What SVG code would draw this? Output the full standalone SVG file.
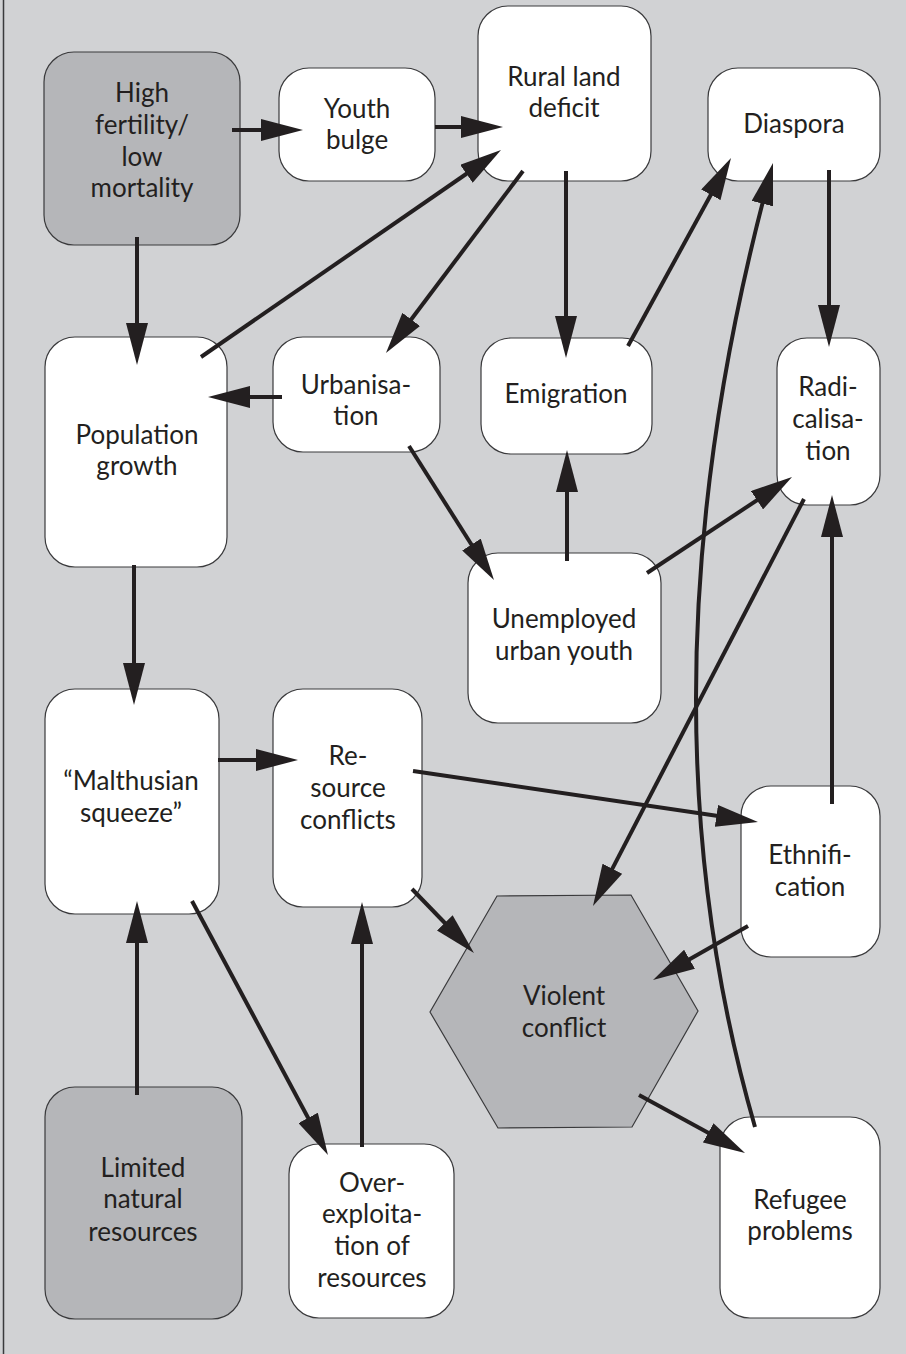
<svg xmlns="http://www.w3.org/2000/svg" width="906" height="1354" viewBox="0 0 906 1354">
<defs>
<style>
.bg{fill:#d1d2d4}
.box{fill:#ffffff;stroke:#3a3a3c;stroke-width:1.2}
.dark{fill:#b5b6b9;stroke:#3a3a3c;stroke-width:1.2}
.lbl{font-family:Lato,"Liberation Sans",sans-serif;font-size:26px;fill:#231f20;text-anchor:middle}
.arr{fill:none;stroke:#231f20;stroke-width:4;marker-end:url(#ah)}
</style>
<marker id="ah" markerUnits="userSpaceOnUse" markerWidth="42" markerHeight="22" refX="12" refY="11" orient="auto" viewBox="0 0 42 22">
<path d="M0,0 L42,11 L0,22 z" fill="#231f20"/>
</marker>
</defs>
<rect class="bg" x="0" y="0" width="906" height="1354"/>
<line x1="3.5" y1="0" x2="3.5" y2="1354" stroke="#3a3a3c" stroke-width="1.5"/>

<g id="high-fertility"><rect class="dark" x="44" y="52" width="196" height="193" rx="30"/>
<text class="lbl" x="142" y="102">High</text><text class="lbl" x="142" y="134">fertility/</text><text class="lbl" x="142" y="166">low</text><text class="lbl" x="142" y="197">mortality</text></g>
<g id="youth-bulge"><rect class="box" x="279" y="68" width="156" height="113" rx="30"/>
<text class="lbl" x="357" y="118">Youth</text><text class="lbl" x="357" y="149">bulge</text></g>
<g id="rural-land"><rect class="box" x="478" y="6" width="173" height="175" rx="30"/>
<text class="lbl" x="564" y="86">Rural land</text><text class="lbl" x="564" y="117">deficit</text></g>
<g id="diaspora"><rect class="box" x="708" y="68" width="172" height="113" rx="30"/>
<text class="lbl" x="794" y="133">Diaspora</text></g>
<g id="population-growth"><rect class="box" x="45" y="337" width="182" height="230" rx="30"/>
<text class="lbl" x="137" y="444">Population</text><text class="lbl" x="137" y="475">growth</text></g>
<g id="urbanisation"><rect class="box" x="273" y="337" width="167" height="115" rx="30"/>
<text class="lbl" x="356" y="394">Urbanisa-</text><text class="lbl" x="356" y="425">tion</text></g>
<g id="emigration"><rect class="box" x="481" y="338" width="171" height="116" rx="30"/>
<text class="lbl" x="566" y="403">Emigration</text></g>
<g id="radicalisation"><rect class="box" x="777" y="338" width="103" height="167" rx="30"/>
<text class="lbl" x="828" y="396">Radi-</text><text class="lbl" x="828" y="428">calisa-</text><text class="lbl" x="828" y="460">tion</text></g>
<g id="unemployed"><rect class="box" x="468" y="553" width="193" height="170" rx="30"/>
<text class="lbl" x="564" y="628">Unemployed</text><text class="lbl" x="564" y="660">urban youth</text></g>
<g id="malthusian"><rect class="box" x="45" y="689" width="174" height="225" rx="30"/>
<text class="lbl" x="131" y="790">“Malthusian</text><text class="lbl" x="131" y="822">squeeze”</text></g>
<g id="resource-conflicts"><rect class="box" x="273" y="689" width="149" height="218" rx="30"/>
<text class="lbl" x="348" y="765">Re-</text><text class="lbl" x="348" y="797">source</text><text class="lbl" x="348" y="829">conflicts</text></g>
<g id="ethnification"><rect class="box" x="741" y="786" width="139" height="171" rx="30"/>
<text class="lbl" x="810" y="864">Ethnifi-</text><text class="lbl" x="810" y="896">cation</text></g>
<g id="violent-conflict"><polygon class="dark" points="497,896 631,895 698,1011 632,1127 498,1128 430,1012"/>
<text class="lbl" x="564" y="1005">Violent</text><text class="lbl" x="564" y="1037">conflict</text></g>
<g id="limited-resources"><rect class="dark" x="45" y="1087" width="197" height="232" rx="30"/>
<text class="lbl" x="143" y="1177">Limited</text><text class="lbl" x="143" y="1208">natural</text><text class="lbl" x="143" y="1241">resources</text></g>
<g id="over-exploitation"><rect class="box" x="289" y="1144" width="165" height="174" rx="30"/>
<text class="lbl" x="372" y="1192">Over-</text><text class="lbl" x="372" y="1223">exploita-</text><text class="lbl" x="372" y="1255">tion of</text><text class="lbl" x="372" y="1287">resources</text></g>
<g id="refugee"><rect class="box" x="720" y="1117" width="160" height="201" rx="30"/>
<text class="lbl" x="800" y="1209">Refugee</text><text class="lbl" x="800" y="1240">problems</text></g>

<g id="connectors">
<path class="arr" d="M232,130 L273,130"/>
<path class="arr" d="M435,127 L473,127"/>
<path class="arr" d="M201,357 L476.3,167"/>
<path class="arr" d="M523,171 L404,329"/>
<path class="arr" d="M566,171 L566,328"/>
<path class="arr" d="M628,346 L716.6,184.3"/>
<path class="arr" d="M755,1127 Q632,700 765.4,192"/>
<path class="arr" d="M829,170 L829,317"/>
<path class="arr" d="M137,237 L137,335"/>
<path class="arr" d="M282,397 L238,397"/>
<path class="arr" d="M409,446 L477.9,554.7"/>
<path class="arr" d="M567,561 L567,480"/>
<path class="arr" d="M647,573 L767,493.6"/>
<path class="arr" d="M804,499 L606.8,879.4"/>
<path class="arr" d="M832,804 L832,525"/>
<path class="arr" d="M134,565 L134,675"/>
<path class="arr" d="M218,760 L268,760"/>
<path class="arr" d="M413,771 L728.3,817.6"/>
<path class="arr" d="M412,889 L453.1,931.5"/>
<path class="arr" d="M748,926 L679.1,965.2"/>
<path class="arr" d="M639,1095 L718.7,1138.6"/>
<path class="arr" d="M137,1095 L137,931"/>
<path class="arr" d="M192,901 L313.8,1128.5"/>
<path class="arr" d="M362,1147 L362,932"/>
</g>
</svg>
